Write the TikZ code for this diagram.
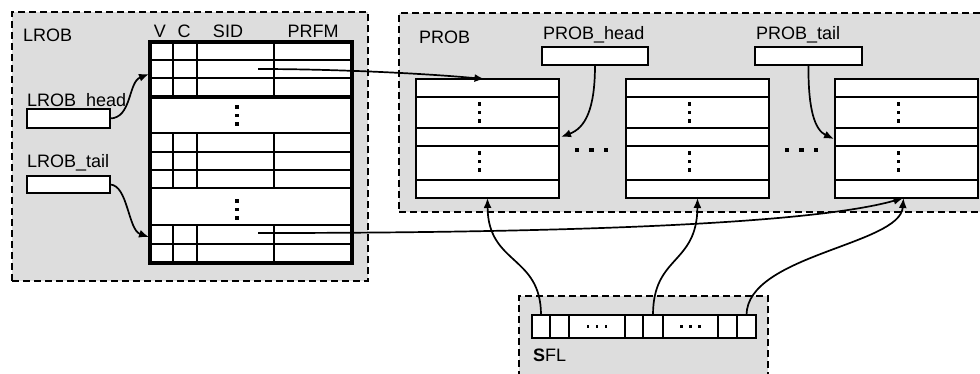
\documentclass[tikz,border=0pt]{standalone}
\usepackage{fontspec}
\setmainfont{Liberation Sans}
\usetikzlibrary{arrows.meta}
\definecolor{regiongray}{RGB}{221,221,221}
\newcommand\coldots[2]{\foreach \dy in {0,8.5,17}{\fill ({#1-1.7},{#2+\dy-1.7}) rectangle ++(3.4,3.4);}}
\newcommand\rowdots[2]{\foreach \dx in {0,14.5,29}{\fill ({#1+\dx-2.3},{#2-2.3}) rectangle ++(4.6,4.6);}}
\newcommand\smalldots[2]{\foreach \dx in {-9,0,9}{\fill ({#1+\dx-1.4},{#2-1.4}) rectangle ++(2.8,2.8);}}
\begin{document}
\begin{tikzpicture}[x=1pt,y=-1pt,
  region/.style={draw, fill=regiongray, dash pattern=on 7pt off 4pt, line width=2.6pt, inner sep=0, outer sep=0, anchor=north west},
  box/.style={draw, fill=white, line width=2.9pt, inner sep=0, outer sep=0, anchor=north west},
  rule/.style={line width=2.6pt},
  lbl/.style={font=\fontsize{18}{20}\selectfont, inner sep=0, anchor=base west},
  hdr/.style={font=\fontsize{18}{20}\selectfont, inner sep=0, anchor=base},
  link/.style={line width=1.7pt, -{Latex[length=10pt,width=8pt]}},
]
\clip (0,0) rectangle (980,373);
\fill[white] (0,0) rectangle (980,373);

% regions
\node[region, minimum width=356pt, minimum height=269pt] (lrob) at (12,12) {};
\node[region, minimum width=620pt, minimum height=199pt] (prob) at (399,13) {};
\node[region, minimum width=249pt, minimum height=120pt] (sfl) at (519,296) {};

% labels
\node[lbl] (lroblbl) at (23,41) {LROB};
\node[lbl] (problbl) at (419,43) {PROB};
\node[lbl] (sfllbl) at (533,361) {{\bfseries S}FL};
\node[hdr] (hv) at (160,37) {V};
\node[hdr] (hc) at (184,37) {C};
\node[hdr] (hsid) at (228,37) {SID};
\node[hdr] (hprfm) at (313,37) {PRFM};
\node[lbl] (lhlbl) at (27,106) {LROB\_head};
\node[lbl] (ltlbl) at (27,167) {LROB\_tail};
\node[lbl] (phlbl) at (543,39) {PROB\_head};
\node[lbl] (ptlbl) at (756,39) {PROB\_tail};

% pointer boxes
\node[box, minimum width=83pt, minimum height=19pt] (lh) at (27,109) {};
\node[box, minimum width=83pt, minimum height=17pt] (lt) at (27,176) {};
\node[box, minimum width=106pt, minimum height=18pt] (ph) at (542,47) {};
\node[box, minimum width=107pt, minimum height=18pt] (pt) at (755,47) {};

% LROB table
\node[box, line width=3.2pt, minimum width=202pt, minimum height=221pt] (ltab) at (150,42) {};
\foreach \y in {60,78,97,133,152,170,188,225,244}{\draw[rule] (150,\y) -- (352,\y);}
\draw[line width=3.4pt] (150,97) -- (352,97);
\foreach \x in {173,197,274}{
  \draw[rule] (\x,42) -- (\x,97);
  \draw[rule] (\x,133) -- (\x,188);
  \draw[rule] (\x,225) -- (\x,263);
}
\coldots{237}{107}
\coldots{237}{201}
\coordinate (p1) at (258,69);
\coordinate (p2) at (258,233);
\coordinate (lrow1) at (149,74);
\coordinate (lrow2) at (149,237);

% PROB boxes
\foreach \n/\x in {1/416,2/626,3/835}{
  \node[box, minimum width=143pt, minimum height=119pt] (pb\n) at (\x,79) {};
  \foreach \y in {97,128,146,180}{\draw[rule] (\x,\y) -- ++(143,0);}
  \coldots{\x+63.5}{104}
  \coldots{\x+63.5}{153}
}
\rowdots{577}{150}
\rowdots{787}{150}
\coordinate (pbr) at (561,137);
\coordinate (pbl) at (834,139);

% SFL cells
\foreach \n/\a/\b in {1/532/550,2/550/569,3/569/625,4/625/643,5/643/663,6/663/718,7/718/737,8/737/756}{
  \node[box, line width=2.6pt, minimum width={(\b-\a)*1pt}, minimum height=23pt] (s\n) at (\a,315) {};
}
\smalldots{597}{326.5}
\smalldots{690.5}{326.5}

% connectors
\draw[link] (lh.east) .. controls (132,118) and (128,82) .. (lrow1);
\draw[link] (lt.east) .. controls (128,185) and (128,230) .. (lrow2);
\draw[link] (p1) .. controls (330,69) and (420,73) .. ([xshift=-3pt]pb1.north);
\draw[link] (p2) .. controls (600,233) and (820,222) .. ([xshift=-3pt]pb3.south);
\draw[link] (ph.south) .. controls (595,110) and (585,128) .. (pbr);
\draw[link] (pt.south) .. controls (808,110) and (815,130) .. (pbl);
\draw[link] (s1.north) .. controls (541,255) and (488,265) .. (pb1.south);
\draw[link] (s5.north) .. controls (653,255) and (697,265) .. (pb2.south);
\draw[link] (s8.north) .. controls (747,255) and (900,245) .. ([xshift=-3pt]pb3.south);
\end{tikzpicture}
\end{document}
